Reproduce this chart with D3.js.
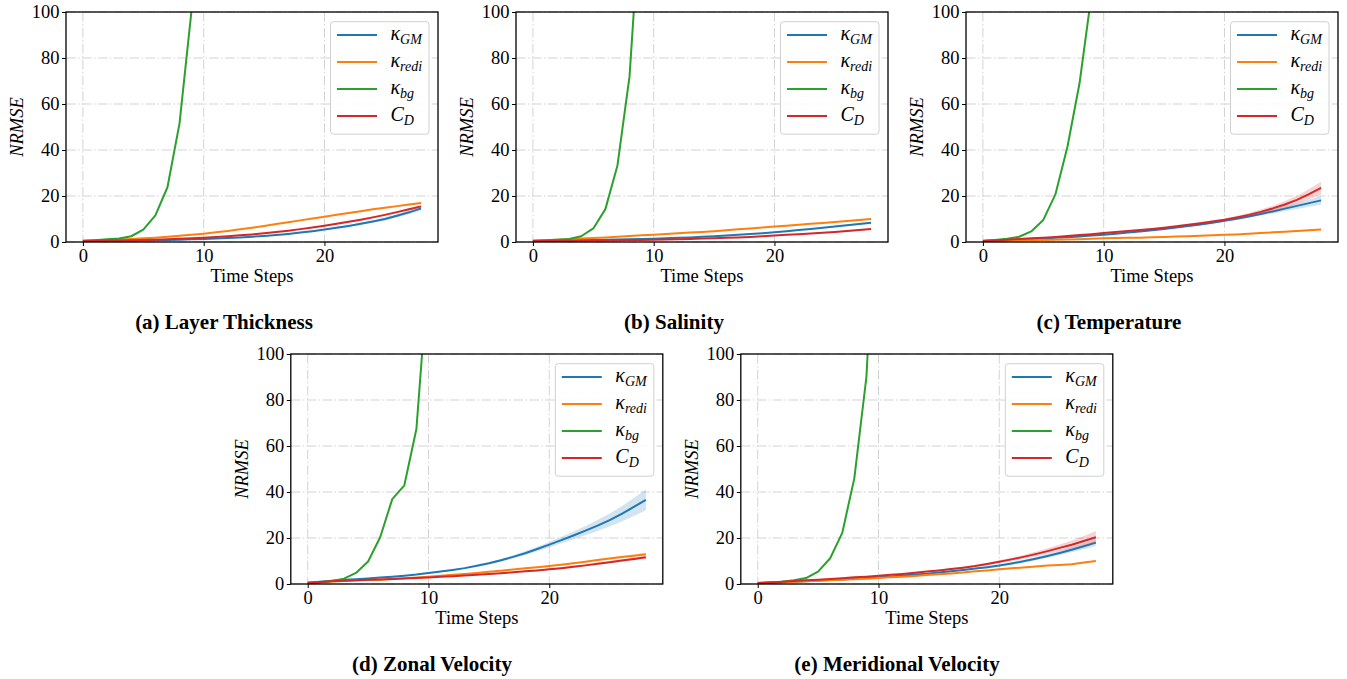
<!DOCTYPE html>
<html><head><meta charset="utf-8">
<script src="https://cdn.jsdelivr.net/npm/d3@7"></script>
<style>body{margin:0;background:#fff}svg{display:block}</style>
</head><body>
<svg id="chart" width="1347" height="679"></svg>
<script>
// ---------- data ----------
const timeSteps = [0,1,2,3,4,5,6,7,8,9,10,11,12,13,14,15,16,17,18,19,20,21,22,23,24,25,26,27,28];
const xTicks = [0,10,20];
const yTicks = [0,20,40,60,80,100];
const captions = ["(a) Layer Thickness","(b) Salinity","(c) Temperature","(d) Zonal Velocity","(e) Meridional Velocity"];
const seriesNames = [["κ","GM"],["κ","redi"],["κ","bg"],["C","D"]];

// (a) Layer Thickness
const gmA   = [0.4,0.45,0.5,0.6,0.65,0.7,0.8,0.9,1.0,1.15,1.3,1.5,1.7,2.0,2.3,2.6,3.0,3.5,4.1,4.7,5.4,6.2,7.0,7.9,8.9,10.0,11.4,12.9,14.6];
const rediA = [0.5,0.7,0.9,1.1,1.3,1.6,1.9,2.3,2.7,3.1,3.6,4.2,4.8,5.5,6.2,7.0,7.8,8.6,9.4,10.2,11.0,11.8,12.6,13.4,14.2,14.9,15.6,16.3,17.0];
const bgA   = [0.5,0.8,1.2,1.5,2.5,5.4,11.6,23.8,51.6,101];
const cdA   = [0.4,0.5,0.6,0.7,0.8,0.9,1.0,1.2,1.4,1.6,1.9,2.2,2.5,2.9,3.3,3.8,4.3,4.9,5.6,6.3,7.1,7.9,8.8,9.7,10.7,11.8,13.0,14.2,15.5];
// (b) Salinity
const gmB   = [0.4,0.5,0.6,0.7,0.8,0.9,1.0,1.1,1.2,1.3,1.4,1.6,1.8,2.0,2.3,2.5,2.8,3.2,3.5,3.8,4.2,4.7,5.2,5.7,6.2,6.7,7.3,7.8,8.4];
const rediB = [0.5,0.75,1.0,1.25,1.5,1.75,2.0,2.3,2.6,2.9,3.2,3.5,3.8,4.1,4.4,4.7,5.1,5.5,5.9,6.3,6.7,7.1,7.5,7.9,8.3,8.7,9.1,9.55,10.0];
const bgB   = [0.5,0.8,1.0,1.3,2.5,5.9,14.3,33.3,72,152];
const cdB   = [0.4,0.45,0.5,0.55,0.6,0.65,0.7,0.8,0.85,0.9,1.0,1.1,1.2,1.35,1.5,1.65,1.8,2.0,2.2,2.5,2.8,3.1,3.4,3.7,4.0,4.4,4.8,5.2,5.6];
// (c) Temperature
const gmC   = [0.4,0.6,0.8,1.0,1.3,1.5,1.8,2.1,2.4,2.8,3.2,3.6,4.1,4.6,5.1,5.7,6.3,6.9,7.6,8.4,9.2,10.1,11.1,12.2,13.3,14.5,15.7,16.9,18.1];
const rediC = [0.4,0.5,0.6,0.7,0.8,0.9,1.0,1.1,1.2,1.4,1.6,1.7,1.8,1.9,2.1,2.2,2.4,2.5,2.7,2.9,3.1,3.3,3.6,3.9,4.2,4.5,4.8,5.1,5.4];
const bgC   = [0.5,0.9,1.4,2.3,4.6,9.6,20.7,41.4,69,108];
const cdC   = [0.4,0.7,1.0,1.3,1.6,1.9,2.2,2.6,3.0,3.4,3.9,4.3,4.8,5.2,5.7,6.2,6.8,7.5,8.2,8.9,9.7,10.7,11.8,13.1,14.6,16.3,18.3,20.8,23.5];
// (d) Zonal Velocity
const gmD   = [0.5,1.0,1.4,1.8,2.1,2.4,2.8,3.2,3.6,4.1,4.8,5.4,6.1,6.9,7.9,9.0,10.3,11.8,13.4,15.2,17.1,19.1,21.1,23.2,25.4,27.8,30.5,33.5,36.6];
const rediD = [0.5,0.8,1.1,1.3,1.5,1.7,1.9,2.2,2.5,2.8,3.2,3.6,4.0,4.4,4.8,5.3,5.8,6.3,6.8,7.3,7.8,8.4,9.0,9.7,10.4,11.1,11.7,12.3,12.9];
const bgD   = [0.3,0.7,1.3,2.3,4.8,9.8,20.3,36.9,42.9,67.4,137];
const cdD   = [0.5,0.9,1.2,1.4,1.6,1.8,2.0,2.2,2.4,2.6,2.8,3.1,3.4,3.7,4.0,4.3,4.7,5.1,5.5,5.9,6.4,6.9,7.5,8.1,8.8,9.5,10.2,10.9,11.6];
// (e) Meridional Velocity
const gmE   = [0.4,0.6,0.8,1.0,1.2,1.5,1.7,2.0,2.3,2.6,2.9,3.3,3.7,4.1,4.5,5.0,5.5,6.1,6.7,7.3,8.0,8.9,9.9,11.0,12.2,13.5,14.9,16.4,18.0];
const rediE = [0.4,0.6,0.8,1.0,1.2,1.4,1.6,1.8,2.1,2.3,2.6,2.9,3.2,3.5,3.9,4.2,4.6,5.0,5.5,5.9,6.4,6.8,7.2,7.6,8.0,8.3,8.6,9.3,10.0];
const bgE   = [0.3,0.6,1.0,1.6,2.6,5.4,11.2,22.2,46,90,190];
const cdE   = [0.4,0.7,1.0,1.3,1.6,1.9,2.2,2.5,2.9,3.2,3.6,4.0,4.4,4.9,5.4,5.9,6.5,7.1,7.8,8.7,9.7,10.7,11.8,13.0,14.3,15.7,17.1,18.7,20.3];

// spread (half-width of shaded band)
const sdSmall = [0,0,0,0,0,0,0,0,0,0,0,0,0,0.1,0.1,0.1,0.1,0.1,0.1,0.1,0.2,0.2,0.2,0.2,0.2,0.3,0.3,0.3,0.3];
const sdGmA = [0,0,0,0,0,0,0,0,0,0,0.1,0.1,0.1,0.1,0.1,0.2,0.2,0.2,0.3,0.3,0.3,0.4,0.4,0.5,0.5,0.6,0.7,0.8,0.9];
const sdCdA = [0,0,0,0,0,0,0,0,0,0,0.1,0.1,0.1,0.1,0.1,0.1,0.1,0.2,0.2,0.2,0.2,0.3,0.3,0.3,0.4,0.4,0.4,0.5,0.5];
const sdGmC = [0,0,0,0,0,0,0,0,0.1,0.1,0.1,0.1,0.1,0.2,0.2,0.2,0.3,0.3,0.3,0.4,0.4,0.5,0.6,0.7,0.9,1.1,1.3,1.6,1.9];
const sdCdC = [0,0,0,0,0,0,0,0,0.1,0.1,0.1,0.1,0.1,0.2,0.2,0.2,0.3,0.3,0.4,0.4,0.5,0.6,0.8,1.0,1.2,1.5,1.8,2.2,2.7];
const sdGmD = [0,0,0,0,0,0.1,0.1,0.1,0.1,0.2,0.2,0.2,0.3,0.3,0.4,0.5,0.6,0.7,0.8,1.0,1.2,1.4,1.7,2.0,2.4,2.8,3.3,3.9,4.5];
const sdRdD = [0,0,0,0,0,0,0,0,0,0.1,0.1,0.1,0.1,0.1,0.2,0.2,0.2,0.2,0.3,0.3,0.3,0.4,0.4,0.4,0.5,0.5,0.6,0.6,0.7];
const sdGmE = [0,0,0,0,0,0,0,0,0.1,0.1,0.1,0.1,0.1,0.1,0.2,0.2,0.2,0.3,0.3,0.4,0.4,0.5,0.6,0.7,0.8,0.9,1.1,1.3,1.5];
const sdCdE = [0,0,0,0,0,0,0,0,0.1,0.1,0.1,0.1,0.2,0.2,0.2,0.3,0.3,0.4,0.4,0.5,0.6,0.7,0.8,1.0,1.2,1.5,1.8,2.2,2.7];

const panelData = [
  {gm:gmA, redi:rediA, bg:bgA, cd:cdA, sdGm:sdGmA, sdRedi:sdSmall, sdCd:sdCdA},
  {gm:gmB, redi:rediB, bg:bgB, cd:cdB, sdGm:sdSmall, sdRedi:sdSmall, sdCd:sdSmall},
  {gm:gmC, redi:rediC, bg:bgC, cd:cdC, sdGm:sdGmC, sdRedi:sdSmall, sdCd:sdCdC},
  {gm:gmD, redi:rediD, bg:bgD, cd:cdD, sdGm:sdGmD, sdRedi:sdRdD, sdCd:sdRdD},
  {gm:gmE, redi:rediE, bg:bgE, cd:cdE, sdGm:sdGmE, sdRedi:sdSmall, sdCd:sdCdE}
];

// ---------- layout ----------
const colors = {gm:"#1f77b4", redi:"#ff7f0e", bg:"#2ca02c", cd:"#d62728"};
const W = 372, H = 230;
const layout = [
  {left:66,    top:12,  capX:224, capY:329},
  {left:516,   top:12,  capX:674, capY:329},
  {left:966,   top:12,  capX:1109, capY:329},
  {left:290.8, top:354, capX:432, capY:671},
  {left:740.8, top:354, capX:897, capY:671}
];
const serif = "'Liberation Serif','Times New Roman',serif";
const svg = d3.select("#chart");
const defs = svg.append("defs");

panelData.forEach((pd, i) => {
  const L = layout[i];
  const g = svg.append("g").attr("transform", `translate(${L.left},${L.top})`);
  const x = d3.scaleLinear().domain([-1.4, 29.4]).range([0, W]);
  const y = d3.scaleLinear().domain([0, 100]).range([H, 0]);

  defs.append("clipPath").attr("id", "clip" + i)
    .append("rect").attr("x", 0).attr("y", 0).attr("width", W).attr("height", H);

  // grid
  const grid = g.append("g").attr("stroke", "#d3d3d3").attr("stroke-width", 1)
    .attr("stroke-dasharray", "9.6,2.4,1.5,2.4");
  xTicks.forEach(t => grid.append("line").attr("x1", x(t)).attr("x2", x(t)).attr("y1", 0).attr("y2", H));
  yTicks.forEach(t => grid.append("line").attr("x1", 0).attr("x2", W).attr("y1", y(t)).attr("y2", y(t)));

  const plot = g.append("g").attr("clip-path", `url(#clip${i})`);
  const line = d3.line().defined(d => d != null).x((d, j) => x(timeSteps[j])).y(d => y(d));
  const area = (vals, sd) => d3.area()
    .x((d, j) => x(timeSteps[j]))
    .y0((d, j) => y(vals[j] - sd[j]))
    .y1((d, j) => y(vals[j] + sd[j]))(vals);

  [["gm", pd.sdGm], ["redi", pd.sdRedi], ["bg", null], ["cd", pd.sdCd]].forEach(([k, sd]) => {
    const vals = pd[k];
    if (sd) plot.append("path").attr("d", area(vals, sd)).attr("fill", colors[k]).attr("fill-opacity", 0.2);
    plot.append("path").attr("d", line(vals)).attr("fill", "none")
      .attr("stroke", colors[k]).attr("stroke-width", 2).attr("stroke-linejoin", "round");
  });

  // axes
  const xa = g.append("g").attr("transform", `translate(0,${H})`)
    .call(d3.axisBottom(x).tickValues(xTicks).tickSize(4).tickPadding(3).tickFormat(d3.format("d")));
  const ya = g.append("g")
    .call(d3.axisLeft(y).tickValues(yTicks).tickSize(4).tickPadding(2.5).tickFormat(d3.format("d")));
  [xa, ya].forEach(a => {
    a.select(".domain").remove();
    a.selectAll("line").attr("stroke", "#000").attr("stroke-width", 1);
    a.selectAll("text").attr("font-family", serif).attr("font-size", 18.5).attr("fill", "#000");
  });
  g.append("rect").attr("width", W).attr("height", H).attr("fill", "none")
    .attr("stroke", "#000").attr("stroke-width", 1.3);

  g.append("text").attr("x", W / 2).attr("y", H + 39.5).attr("text-anchor", "middle")
    .attr("font-family", serif).attr("font-size", 18.5).text("Time Steps");
  g.append("text").attr("transform", `translate(${-43},${H / 2}) rotate(-90)`)
    .attr("text-anchor", "middle").attr("font-family", serif).attr("font-style", "italic")
    .attr("font-size", 18.5).text("NRMSE");

  // legend
  const lg = g.append("g").attr("transform", `translate(${W - 107.5},${9.7})`);
  lg.append("rect").attr("width", 98.5).attr("height", 112.5).attr("rx", 3)
    .attr("fill", "#fff").attr("fill-opacity", 0.85).attr("stroke", "#d0d0d0").attr("stroke-width", 1);
  ["gm", "redi", "bg", "cd"].forEach((k, j) => {
    const cy = 13.3 + j * 27;
    lg.append("line").attr("x1", 6.5).attr("x2", 46.5).attr("y1", cy).attr("y2", cy)
      .attr("stroke", colors[k]).attr("stroke-width", 2);
    const t = lg.append("text").attr("x", 60).attr("y", cy + 5)
      .attr("font-family", serif).attr("font-style", "italic").attr("font-size", 20);
    t.append("tspan").text(seriesNames[j][0]);
    t.append("tspan").attr("dy", 4).attr("font-size", 14).text(seriesNames[j][1]);
  });

  svg.append("text").attr("x", L.capX).attr("y", L.capY).attr("text-anchor", "middle")
    .attr("font-family", serif).attr("font-weight", "bold").attr("font-size", 21)
    .text(captions[i]);
});
</script>
</body></html>
